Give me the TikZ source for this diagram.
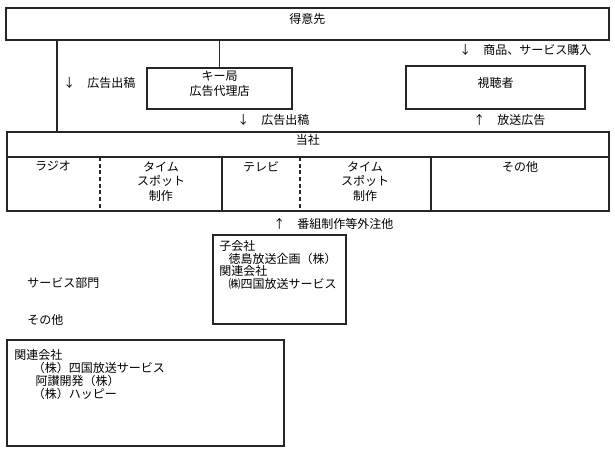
\documentclass[tikz,border=0pt]{standalone}
\usepackage{fontspec}
\setmainfont{Noto Sans CJK JP}
\usetikzlibrary{fit}

\tikzset{
  box/.style={draw=black!85, line width=0.9pt, inner sep=0pt, align=center,
    font=\fontsize{9}{11}\selectfont},
  txt/.style={inner sep=0pt, font=\fontsize{9}{11}\selectfont},
  cell/.style={txt, align=center, anchor=north},
  note/.style={txt, anchor=west},
  lst/.style={txt, align=left, anchor=north west},
  wire/.style={draw=black!85, line width=0.9pt},
  dashdiv/.style={wire, dash pattern=on 3pt off 2pt},
}

\begin{document}
\begin{tikzpicture}[x=0.75pt, y=-0.75pt]
  \useasboundingbox (0,0) rectangle (615,458);

  % upper boxes
  \node[box, fit={(6,8) (609,40)}] (tokui) {得意先};
  \node[box, fit={(147,68) (292,109)}] (kyoku) {キー局\\広告代理店};
  \node[box, fit={(406,66) (585,109)}] (shicho) {視聴者};

  % own company
  \node[box, fit={(7,132) (609,157)}] (tosha) {当社};
  \node[box, fit={(7,157) (609,211)}] (bumon) {};
  \draw[dashdiv] (100,157) -- (100,211);
  \draw[wire] (222,157) -- (222,211);
  \draw[dashdiv] (300,157) -- (300,211);
  \draw[wire] (431,157) -- (431,211);
  \node[cell] (radio) at (53,161) {ラジオ};
  \node[cell] (time1) at (161,161) {タイム\\スポット\\制作};
  \node[cell] (tv) at (261,161) {テレビ};
  \node[cell] (time2) at (365,161) {タイム\\スポット\\制作};
  \node[cell] (sonota1) at (520,161) {その他};

  % connectors
  \coordinate (lx) at (57,0);
  \draw[wire] (lx |- tokui.south) -- (lx |- tosha.north);
  \draw[wire] (kyoku.north) -- (kyoku.north |- tokui.south);

  % flow labels
  \node[note] (l1) at (63,83) {↓　広告出稿};
  \node[note] (l2) at (237,120) {↓　広告出稿};
  \node[note] (l3) at (459,50) {↓　商品、サービス購入};
  \node[note] (l4) at (473,120) {↑　放送広告};
  \node[note] (l5) at (273,224) {↑　番組制作等外注他};

  % group companies
  \node[txt, anchor=west] (service) at (27,283) {サービス部門};
  \node[txt, anchor=west] (sonota2) at (27,320) {その他};
  \node[box, fit={(213,235) (346,324)}] (kogaisha) {};
  \node[lst, font=\fontsize{9}{9.6}\selectfont] (kolist) at (219,240)
    {子会社\\\hspace*{7pt}徳島放送企画（株）\\関連会社\\\hspace*{7pt}㈱四国放送サービス};
  \node[box, fit={(7,340) (284,446)}] (kanren) {};
  \node[lst, font=\fontsize{9}{9.8}\selectfont] (kalist) at (14,349)
    {関連会社\\\hspace*{14pt}（株）四国放送サービス\\\hspace*{16pt}阿讃開発（株）\\\hspace*{14pt}（株）ハッピー};
\end{tikzpicture}
\end{document}
